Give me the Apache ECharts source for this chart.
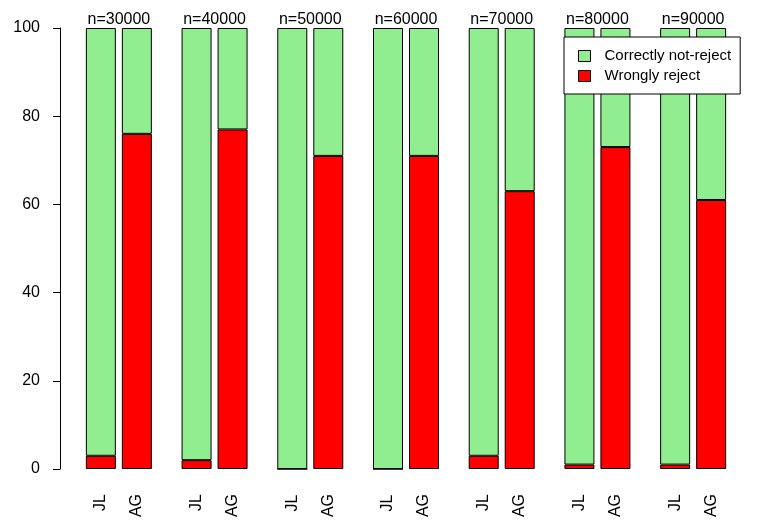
<!DOCTYPE html>
<html>
<head>
<meta charset="utf-8">
<script src="https://cdn.jsdelivr.net/npm/echarts@6/dist/echarts.min.js"></script>
<style>
html,body{margin:0;padding:0;background:#fff;}
#c{width:757px;height:526px;}
</style>
</head>
<body>
<div id="c"></div>
<script>
var sampleSizes = ['n=30000','n=40000','n=50000','n=60000','n=70000','n=80000','n=90000'];
var methods = ['JL','AG'];
var jlWrong = [3, 2, 0, 0, 3, 1, 1];
var agWrong = [76, 77, 71, 71, 63, 73, 61];
var yTicks = [0, 20, 40, 60, 80, 100];
var legendNames = ['Correctly not-reject', 'Wrongly reject'];

var font = 'Liberation Sans, Arial, sans-serif';
var GREEN = '#90EE90', RED = '#FF0000';

function complement(arr){ return arr.map(function(v){ return 100 - v; }); }

var wrongByMethod = [jlWrong, agWrong];
var series = [];
methods.forEach(function(m, i){
  series.push({
    name: legendNames[1], type: 'bar', stack: m,
    data: wrongByMethod[i],
    barWidth: 30, barGap: '20%',
    itemStyle: {color: RED, borderColor: '#000', borderWidth: 1},
    label: {
      show: true, position: 'bottom', distance: 25, rotate: 90,
      align: 'right', verticalAlign: 'middle',
      formatter: m, color: '#000', fontSize: 16, fontFamily: font
    },
    emphasis: {disabled: true}
  });
  series.push({
    name: legendNames[0], type: 'bar', stack: m,
    data: complement(wrongByMethod[i]),
    barWidth: 30, barGap: '20%',
    itemStyle: {color: GREEN, borderColor: '#000', borderWidth: 1},
    emphasis: {disabled: true}
  });
});

var chart = echarts.init(document.getElementById('c'), null, {renderer: 'canvas'});
chart.setOption({
  animation: false,
  backgroundColor: '#fff',
  grid: {left: 71, right: 16, top: 28, bottom: 57, containLabel: false},
  legend: {
    data: legendNames,
    orient: 'vertical',
    left: 564, top: 37,
    backgroundColor: '#fff',
    borderColor: '#000', borderWidth: 1, borderRadius: 0,
    padding: [11, 9, 10, 14],
    itemWidth: 12, itemHeight: 11, itemGap: 4,
    icon: 'rect',
    itemStyle: {borderColor: '#000', borderWidth: 1},
    textStyle: {fontSize: 15, fontFamily: font, color: '#000', lineHeight: 16, padding: [0, 0, 0, 9]},
    selectedMode: false
  },
  xAxis: {
    type: 'category', position: 'top',
    data: sampleSizes,
    axisLine: {show: false}, axisTick: {show: false},
    axisLabel: {fontSize: 16, fontFamily: font, color: '#000', margin: 0, interval: 0},
    splitLine: {show: false}
  },
  yAxis: {
    type: 'value', min: yTicks[0], max: yTicks[yTicks.length-1], interval: 20,
    offset: 11,
    axisLine: {show: true, lineStyle: {color: '#000', width: 1}},
    axisTick: {show: true, inside: false, length: 7, lineStyle: {color: '#000'}},
    axisLabel: {fontSize: 16, fontFamily: font, color: '#000', margin: 20},
    splitLine: {show: false}
  },
  series: series
});
</script>
</body>
</html>
